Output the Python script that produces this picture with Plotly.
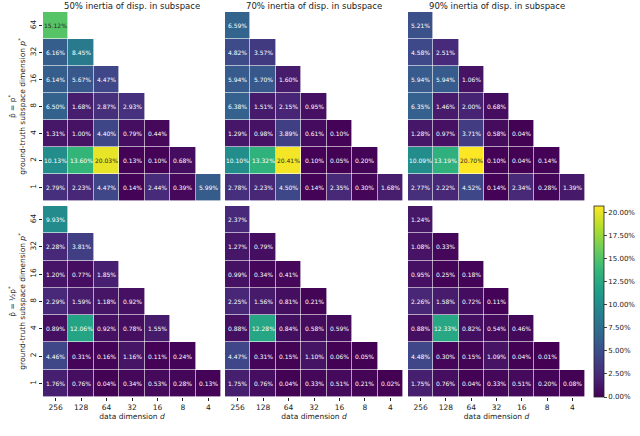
import plotly.graph_objects as go

# axis categories
dims = ["256", "128", "64", "32", "16", "8", "4"]
pstar = ["64", "32", "16", "8", "4", "2", "1"]

panel_titles = ["50% inertia of disp. in subspace",
                "70% inertia of disp. in subspace",
                "90% inertia of disp. in subspace"]

# error in %, rows = p* (64 ... 1), cols = d (256 ... 4)
top_50 = [[15.12],
          [6.16, 8.45],
          [6.14, 5.67, 4.47],
          [6.50, 1.68, 2.87, 2.93],
          [1.31, 1.00, 4.40, 0.79, 0.44],
          [10.13, 13.60, 20.03, 0.13, 0.10, 0.68],
          [2.79, 2.23, 4.47, 0.14, 2.44, 0.39, 5.99]]
top_70 = [[6.59],
          [4.82, 3.57],
          [5.94, 5.70, 1.60],
          [6.38, 1.51, 2.15, 0.95],
          [1.29, 0.98, 3.89, 0.61, 0.10],
          [10.10, 13.32, 20.41, 0.10, 0.05, 0.20],
          [2.78, 2.23, 4.50, 0.14, 2.35, 0.30, 1.68]]
top_90 = [[5.21],
          [4.58, 2.51],
          [5.94, 5.94, 1.06],
          [6.35, 1.46, 2.00, 0.68],
          [1.28, 0.97, 3.71, 0.58, 0.04],
          [10.09, 13.19, 20.70, 0.10, 0.04, 0.14],
          [2.77, 2.22, 4.52, 0.14, 2.34, 0.28, 1.39]]
bot_50 = [[9.93],
          [2.28, 3.81],
          [1.20, 0.77, 1.85],
          [2.29, 1.59, 1.18, 0.92],
          [0.89, 12.06, 0.92, 0.78, 1.55],
          [4.46, 0.31, 0.16, 1.16, 0.11, 0.24],
          [1.76, 0.76, 0.04, 0.34, 0.53, 0.28, 0.13]]
bot_70 = [[2.37],
          [1.27, 0.79],
          [0.99, 0.34, 0.41],
          [2.25, 1.56, 0.81, 0.21],
          [0.88, 12.28, 0.84, 0.58, 0.59],
          [4.47, 0.31, 0.15, 1.10, 0.06, 0.05],
          [1.75, 0.76, 0.04, 0.33, 0.51, 0.21, 0.02]]
bot_90 = [[1.24],
          [1.08, 0.33],
          [0.95, 0.25, 0.18],
          [2.26, 1.58, 0.72, 0.11],
          [0.88, 12.33, 0.82, 0.54, 0.46],
          [4.48, 0.30, 0.15, 1.09, 0.04, 0.01],
          [1.75, 0.76, 0.04, 0.33, 0.51, 0.20, 0.08]]

panels = [[top_50, top_70, top_90], [bot_50, bot_70, bot_90]]
zmax = 20.70

W, H = 640, 436
L, R, T, B = 43, 585, 12, 397   # plot area in pixels
PW, PH = R - L, B - T
xdom_px = [(43, 221), (225, 403), (408, 585)]
ydom_px = [(12, 201), (206, 397)]

font = "DejaVu Sans"
ink = "#222"
xi = list(range(len(dims)))
yi = list(range(len(pstar)))

fig = go.Figure()
annotations = []

for r in range(2):
    for c in range(3):
        k = r * 3 + c + 1
        xa = "x" if k == 1 else "x%d" % k
        ya = "y" if k == 1 else "y%d" % k
        rows = panels[r][c]
        z = [row + [None] * (len(dims) - len(row)) for row in rows]
        fig.add_trace(go.Heatmap(
            z=z, x=xi, y=yi, xaxis=xa, yaxis=ya,
            colorscale="Viridis", zmin=0, zmax=zmax,
            xgap=0.6, ygap=0.6, hoverinfo="skip",
            showscale=(k == 6),
            colorbar=dict(
                x=(594 - L) / PW, xanchor="left", xpad=0,
                y=0, yanchor="bottom", ypad=0,
                len=191, lenmode="pixels", thickness=10,
                outlinewidth=0.8, outlinecolor=ink,
                tick0=0, dtick=2.5, tickformat=".2f", ticksuffix="%",
                ticks="outside", ticklen=3, tickwidth=0.8,
                tickfont=dict(family=font, size=7, color=ink)),
        ))
        for i, row in enumerate(rows):
            for j, v in enumerate(row):
                annotations.append(dict(
                    x=xi[j], y=yi[i], xref=xa, yref=ya,
                    text="%.2f%%" % v, showarrow=False,
                    font=dict(family=font, size=6,
                              color="#262626" if v / zmax > 0.7 else "white")))

        x0, x1 = xdom_px[c]
        y0, y1 = ydom_px[r]
        xkey = "xaxis" if k == 1 else "xaxis%d" % k
        ykey = "yaxis" if k == 1 else "yaxis%d" % k
        xax = dict(
            domain=[(x0 - L) / PW, (x1 - L) / PW], anchor=ya,
            range=[-0.5, len(dims) - 0.5], automargin=False,
            showgrid=False, zeroline=False, showline=False,
            tickvals=xi, ticktext=dims,
            showticklabels=(r == 1), ticks="outside" if r == 1 else "",
            ticklen=3, tickwidth=0.8, tickcolor=ink,
            tickfont=dict(family=font, size=7.5, color=ink))
        if r == 1:
            xax["title"] = dict(text="data dimension <i>d</i>", standoff=0,
                                font=dict(family=font, size=7.5, color=ink))
        yax = dict(
            domain=[(B - y1) / PH, (B - y0) / PH], anchor=xa,
            range=[len(pstar) - 0.5, -0.5], automargin=False,
            showgrid=False, zeroline=False, showline=False,
            tickvals=yi, ticktext=pstar,
            showticklabels=(c == 0), ticks="outside" if c == 0 else "",
            ticklen=3, tickwidth=0.8, tickcolor=ink, tickangle=-90,
            tickfont=dict(family=font, size=7.5, color=ink))
        if c == 0:
            lab = "p̂ = p<sup>*</sup>" if r == 0 else "p̂ = ½p<sup>*</sup>"
            yax["title"] = dict(
                text=lab + "<br>ground-truth subspace dimension <i>p</i><sup>*</sup>",
                standoff=2, font=dict(family=font, size=7.5, color=ink))
        fig.layout[xkey] = xax
        fig.layout[ykey] = yax

for c in range(3):
    x0, x1 = xdom_px[c]
    annotations.append(dict(
        x=((x0 + x1) / 2 - L) / PW, y=1, xref="paper", yref="paper",
        xanchor="center", yanchor="bottom", yshift=-1,
        text=panel_titles[c], showarrow=False,
        font=dict(family=font, size=8.5, color=ink)))

fig.update_layout(
    width=W, height=H,
    margin=dict(l=L, r=W - R, t=T, b=H - B, pad=0, autoexpand=False),
    paper_bgcolor="white", plot_bgcolor="white",
    annotations=annotations, showlegend=False)

# page body has an 8px default margin; drop it so the figure sits at 0,0
fig.write_html("out.html", config={"displayModeBar": False},
               post_script="document.body.style.margin='0px';")
